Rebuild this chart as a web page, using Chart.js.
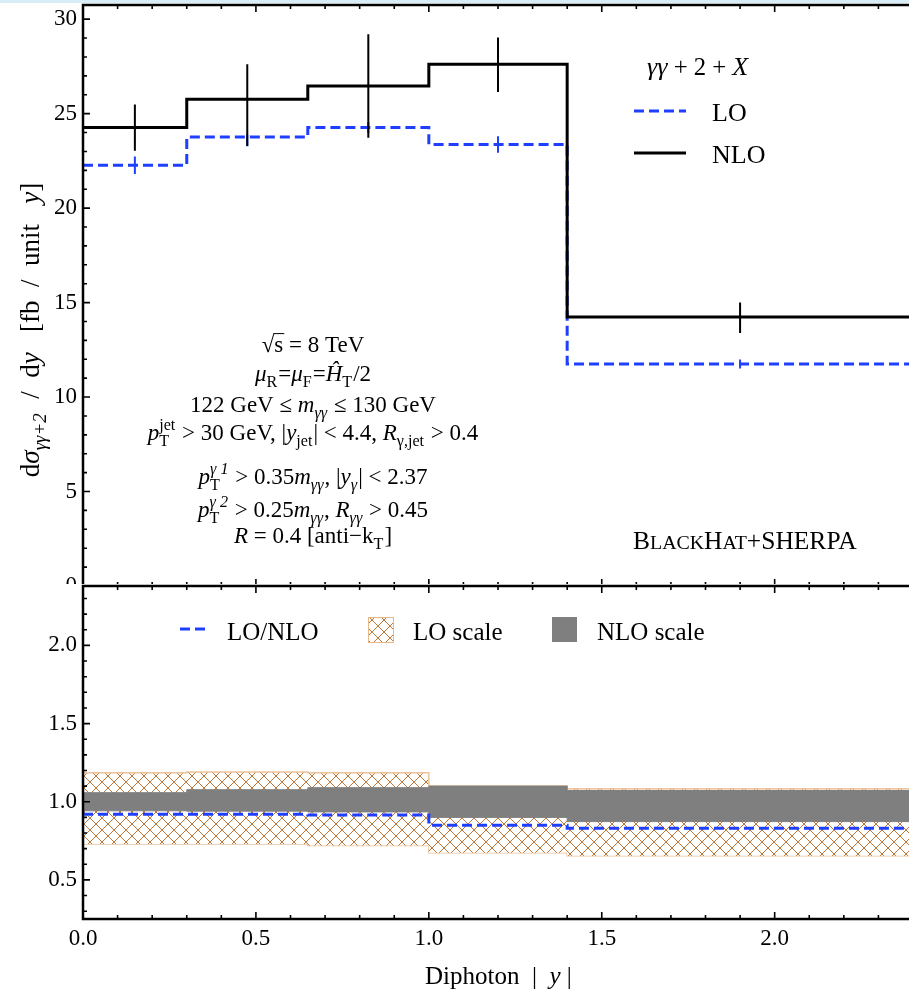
<!DOCTYPE html>
<html>
<head>
<meta charset="utf-8">
<script src="https://cdn.jsdelivr.net/npm/chart.js@4.4.0/dist/chart.umd.min.js"></script>
<style>
  html, body { margin: 0; padding: 0; background: #fff; overflow: hidden; width: 909px; height: 992px; }
  #strip { position: absolute; left: 0; top: 0; width: 909px; height: 3px; background: #d9edf8; z-index: 5; }
  #top { position: absolute; left: 0; top: 0; }
  #bottom { position: absolute; left: 0; top: 584px; }
</style>
</head>
<body>
<div id="strip"></div>
<canvas id="top" width="913" height="600"></canvas>
<canvas id="bottom" width="913" height="408"></canvas>
<script>
// bins in diphoton |y|
const binEdges = [0, 0.3, 0.65, 1.0, 1.4, 2.4];

// top panel: dsigma/dy [fb]
const nloValues = [24.26, 25.76, 26.46, 27.61, 14.24];
const nloErrUp = [1.23, 1.85, 2.74, 1.42, 0.77];
const nloErrDown = [1.23, 2.47, 2.73, 1.46, 0.85];
const loValues = [22.27, 23.76, 24.26, 23.37, 11.75];
const loErrUp = [0.46, 0.14, 0.3, 0.44, 0.24];
const loErrDown = [0.46, 0.48, 0.3, 0.44, 0.24];

// bottom panel: ratios to NLO
const ratioLoNlo = [0.92, 0.92, 0.915, 0.85, 0.83];
const loScaleHi = [1.186, 1.19, 1.186, 1.10, 1.083];
const loScaleLo = [0.73, 0.73, 0.72, 0.673, 0.654];
const nloScaleHi = [1.058, 1.077, 1.09, 1.10, 1.072];
const nloScaleLo = [0.942, 0.94, 0.935, 0.90, 0.873];

const topTicks = [0, 5, 10, 15, 20, 25, 30];
const ratioTicks = [0.5, 1.0, 1.5, 2.0];
const xTicks = [0, 0.5, 1.0, 1.5, 2.0];

const SERIF = '"Liberation Serif", "DejaVu Serif", serif';
const BLUE = '#1f3fff';
const HATCH = '#c07536';

// values hold from the left edge of each bin to the next edge
function stepData(vals) {
  return binEdges.map((x, i) => ({ x: x, y: vals[Math.min(i, vals.length - 1)] }));
}

function makeHatch() {
  const c = document.createElement('canvas');
  c.width = 12; c.height = 12;
  const g = c.getContext('2d');
  g.fillStyle = '#fff';
  g.fillRect(0, 0, 12, 12);
  g.strokeStyle = HATCH;
  g.lineWidth = 1;
  g.beginPath();
  g.moveTo(0, 0); g.lineTo(12, 12);
  g.moveTo(12, 0); g.lineTo(0, 12);
  g.stroke();
  return g.createPattern(c, 'repeat');
}
const hatch = makeHatch();

// --- rich text (sub/superscripts, italics) ---
function fontFor(size, italic) {
  return (italic ? 'italic ' : '') + size + 'px ' + SERIF;
}
function partWidth(ctx, p, size) {
  if (p.sub !== undefined || p.sup !== undefined) {
    let ws = 0, wp = 0;
    if (p.sub) { ctx.font = fontFor(size * 0.7, p.subI); ws = ctx.measureText(p.sub).width; }
    if (p.sup) { ctx.font = fontFor(size * 0.7, p.supI); wp = ctx.measureText(p.sup).width; }
    return Math.max(ws, wp) + 1;
  }
  ctx.font = fontFor(size * (p.s || 1), p.i);
  return ctx.measureText(p.t).width;
}
function drawRich(ctx, parts, x, y, size, align) {
  let w = 0;
  parts.forEach(p => { w += partWidth(ctx, p, size); });
  if (align === 'center') x -= w / 2;
  ctx.textBaseline = 'alphabetic';
  ctx.textAlign = 'left';
  parts.forEach(p => {
    const pw = partWidth(ctx, p, size);
    if (p.sub !== undefined || p.sup !== undefined) {
      if (p.sub) { ctx.font = fontFor(size * 0.7, p.subI); ctx.fillText(p.sub, x, y + size * 0.25); }
      if (p.sup) { ctx.font = fontFor(size * 0.7, p.supI); ctx.fillText(p.sup, x, y - size * 0.42); }
    } else {
      ctx.font = fontFor(size * (p.s || 1), p.i);
      ctx.fillText(p.t, x, y);
      if (p.over) {
        ctx.lineWidth = 1;
        ctx.beginPath();
        ctx.moveTo(x - 1, y - size * 0.8);
        ctx.lineTo(x + pw + 1, y - size * 0.8);
        ctx.stroke();
      }
    }
    x += pw;
  });
}

// frame with inward ticks on every side
function drawFrame(chart, yMinor, yMajorEvery) {
  const { ctx, chartArea: a, scales: { x, y } } = chart;
  ctx.save();
  ctx.strokeStyle = '#000';
  ctx.lineWidth = 1.6;
  ctx.beginPath();
  for (let k = 0; k <= 24; k++) {
    const px = x.getPixelForValue(k / 10);
    const L = k % 5 === 0 ? 7 : 4;
    ctx.moveTo(px, a.bottom); ctx.lineTo(px, a.bottom - L);
    ctx.moveTo(px, a.top); ctx.lineTo(px, a.top + L);
  }
  const k0 = Math.ceil(y.min / yMinor), k1 = Math.floor(y.max / yMinor);
  for (let k = k0; k <= k1; k++) {
    const py = y.getPixelForValue(k * yMinor);
    const L = k % yMajorEvery === 0 ? 7 : 4;
    ctx.moveTo(a.left, py); ctx.lineTo(a.left + L, py);
  }
  ctx.stroke();
  ctx.lineWidth = 2.5;
  ctx.strokeRect(a.left, a.top, a.right - a.left, a.bottom - a.top);
  ctx.restore();
}

function drawErrorBars(chart, vals, up, down, color) {
  const { ctx, scales: { x, y } } = chart;
  ctx.save();
  ctx.strokeStyle = color;
  ctx.lineWidth = 2;
  ctx.beginPath();
  vals.forEach((v, i) => {
    const px = x.getPixelForValue((binEdges[i] + binEdges[i + 1]) / 2);
    ctx.moveTo(px, y.getPixelForValue(v + up[i]));
    ctx.lineTo(px, y.getPixelForValue(v - down[i]));
  });
  ctx.stroke();
  ctx.restore();
}

// no extra room for edge labels: plot area is fixed by hand
function noPad(s) {
  s.paddingTop = 0; s.paddingBottom = 0; s.paddingLeft = 0; s.paddingRight = 0;
}

const cutsText = [
  [{ t: '√' }, { t: 's', over: true }, { t: ' = 8 TeV' }],
  [{ t: 'μ', i: 1 }, { sub: 'R' }, { t: '=' }, { t: 'μ', i: 1 }, { sub: 'F' }, { t: '=' }, { t: 'Ĥ', i: 1 }, { sub: 'T' }, { t: '/2' }],
  [{ t: '122 GeV ≤ ' }, { t: 'm', i: 1 }, { sub: 'γγ', subI: 1 }, { t: ' ≤ 130 GeV' }],
  [{ t: 'p', i: 1 }, { sub: 'T', sup: 'jet' }, { t: ' > 30 GeV, |' }, { t: 'y', i: 1 }, { sub: 'jet' }, { t: '| < 4.4, ' }, { t: 'R', i: 1 }, { sub: 'γ,jet' }, { t: ' > 0.4' }],
  [{ t: 'p', i: 1 }, { sub: 'T', sup: 'γ 1', supI: 1 }, { t: ' > 0.35' }, { t: 'm', i: 1 }, { sub: 'γγ', subI: 1 }, { t: ', |' }, { t: 'y', i: 1 }, { sub: 'γ', subI: 1 }, { t: '| < 2.37' }],
  [{ t: 'p', i: 1 }, { sub: 'T', sup: 'γ 2', supI: 1 }, { t: ' > 0.25' }, { t: 'm', i: 1 }, { sub: 'γγ', subI: 1 }, { t: ', ' }, { t: 'R', i: 1 }, { sub: 'γγ', subI: 1 }, { t: ' > 0.45' }],
  [{ t: 'R', i: 1 }, { t: ' = 0.4 [anti−k' }, { sub: 'T' }, { t: ']' }]
];
const cutsBaselines = [352, 381, 412, 440, 484, 517, 543];

const topDecor = {
  id: 'topDecor',
  afterDatasetsDraw(chart) {
    const ctx = chart.ctx;
    drawErrorBars(chart, loValues, loErrUp, loErrDown, BLUE);
    drawErrorBars(chart, nloValues, nloErrUp, nloErrDown, '#000');
    drawFrame(chart, 1, 5);

    ctx.save();
    ctx.fillStyle = '#000';
    ctx.strokeStyle = '#000';
    // y axis title
    ctx.save();
    ctx.translate(39, 330);
    ctx.rotate(-Math.PI / 2);
    drawRich(ctx, [{ t: 'd' }, { t: 'σ', i: 1 }, { sub: 'γγ+2', subI: 1 }, { t: '  /  d' }, { t: 'y', i: 1 }, { t: '   [fb  /  unit   ' }, { t: 'y', i: 1 }, { t: ']' }], 0, 0, 27, 'center');
    ctx.restore();

    // legend
    drawRich(ctx, [{ t: 'γγ', i: 1 }, { t: ' + 2 + ' , s: 0.95 }, { t: 'X', i: 1 }], 647, 75, 26, 'left');
    ctx.lineWidth = 3;
    ctx.strokeStyle = BLUE;
    ctx.setLineDash([10, 5]);
    ctx.beginPath(); ctx.moveTo(634, 111); ctx.lineTo(686, 111); ctx.stroke();
    ctx.setLineDash([]);
    ctx.strokeStyle = '#000';
    ctx.beginPath(); ctx.moveTo(634, 153); ctx.lineTo(686, 153); ctx.stroke();
    drawRich(ctx, [{ t: 'LO' }], 712, 121, 26, 'left');
    drawRich(ctx, [{ t: 'NLO' }], 712, 163, 26, 'left');

    // cuts
    cutsText.forEach((line, i) => drawRich(ctx, line, 313, cutsBaselines[i], 23, 'center'));

    // program label in small caps
    drawRich(ctx, [{ t: 'B' }, { t: 'LACK', s: 0.78 }, { t: 'H' }, { t: 'AT', s: 0.78 }, { t: '+SHERPA' }], 633, 549, 25.5, 'left');
    ctx.restore();
  }
};

const bottomDecor = {
  id: 'bottomDecor',
  beforeDraw(chart) {
    const ctx = chart.ctx;
    ctx.save();
    ctx.fillStyle = '#fff';
    ctx.fillRect(0, 0, chart.width, chart.height);
    ctx.restore();
  },
  afterDatasetsDraw(chart) {
    const ctx = chart.ctx;
    drawFrame(chart, 0.1, 5);
    ctx.save();
    ctx.fillStyle = '#000';
    // legend
    ctx.strokeStyle = BLUE;
    ctx.lineWidth = 3;
    ctx.setLineDash([10, 5]);
    ctx.beginPath(); ctx.moveTo(180, 45); ctx.lineTo(206, 45); ctx.stroke();
    ctx.setLineDash([]);
    drawRich(ctx, [{ t: 'LO/NLO' }], 227, 56, 25, 'left');
    ctx.fillStyle = hatch;
    ctx.fillRect(368, 33, 25, 25);
    ctx.strokeStyle = '#e8b888';
    ctx.lineWidth = 1;
    ctx.strokeRect(368.5, 33.5, 25, 25);
    ctx.fillStyle = '#000';
    drawRich(ctx, [{ t: 'LO scale' }], 413, 56, 25, 'left');
    ctx.fillStyle = '#7f7f7f';
    ctx.fillRect(552, 33, 25, 25);
    ctx.fillStyle = '#000';
    drawRich(ctx, [{ t: 'NLO scale' }], 597, 56, 25, 'left');
    // x axis title
    drawRich(ctx, [{ t: 'Diphoton  |  ' }, { t: 'y', i: 1 }, { t: ' |' }], 425, 400, 25, 'left');
    ctx.restore();
  }
};

const tickFont = { family: SERIF, size: 23 };

new Chart(document.getElementById('top'), {
  type: 'line',
  data: {
    datasets: [
      { label: 'NLO', data: stepData(nloValues), stepped: true, borderColor: '#000', borderWidth: 3, pointRadius: 0, fill: false },
      { label: 'LO', data: stepData(loValues), stepped: true, borderColor: BLUE, borderWidth: 3, borderDash: [10, 5], pointRadius: 0, fill: false }
    ]
  },
  options: {
    responsive: false,
    animation: false,
    devicePixelRatio: 1,
    layout: { padding: { top: 5, left: 0, right: 0, bottom: 0 } },
    plugins: { legend: { display: false }, tooltip: { enabled: false } },
    scales: {
      x: {
        type: 'linear', min: 0, max: 2.4,
        grid: { display: false, drawTicks: false }, border: { display: false },
        ticks: { display: false },
        afterFit: s => { s.height = 14; noPad(s); }
      },
      y: {
        min: 0, max: 30.75,
        grid: { display: false, drawTicks: false }, border: { display: false },
        ticks: { font: tickFont, color: '#000', padding: 6 },
        afterBuildTicks: s => { s.ticks = topTicks.map(v => ({ value: v })); },
        afterFit: s => { s.width = 83; noPad(s); }
      }
    }
  },
  plugins: [topDecor]
});

new Chart(document.getElementById('bottom'), {
  type: 'line',
  data: {
    datasets: [
      { label: 'LO/NLO', data: stepData(ratioLoNlo), stepped: true, borderColor: BLUE, borderWidth: 3, borderDash: [10, 5], pointRadius: 0, fill: false, order: 0 },
      { label: 'NLO scale', data: stepData(nloScaleHi), stepped: true, borderColor: '#7f7f7f', borderWidth: 1, pointRadius: 0, backgroundColor: '#7f7f7f', fill: '+1', order: 1 },
      { label: 'NLO scale low', data: stepData(nloScaleLo), stepped: true, borderColor: '#7f7f7f', borderWidth: 1, pointRadius: 0, fill: false, order: 1 },
      { label: 'LO scale', data: stepData(loScaleHi), stepped: true, borderColor: '#ecc29a', borderWidth: 1.5, pointRadius: 0, backgroundColor: hatch, fill: '+1', order: 2 },
      { label: 'LO scale low', data: stepData(loScaleLo), stepped: true, borderColor: '#ecc29a', borderWidth: 1.5, pointRadius: 0, fill: false, order: 2 }
    ]
  },
  options: {
    responsive: false,
    animation: false,
    devicePixelRatio: 1,
    layout: { padding: { top: 2, left: 0, right: 0, bottom: 0 } },
    plugins: { legend: { display: false }, tooltip: { enabled: false } },
    scales: {
      x: {
        type: 'linear', min: 0, max: 2.4,
        grid: { display: false, drawTicks: false }, border: { display: false },
        ticks: { font: tickFont, color: '#000', padding: 6, maxRotation: 0, callback: v => v.toFixed(1) },
        afterBuildTicks: s => { s.ticks = xTicks.map(v => ({ value: v })); },
        afterFit: s => { s.height = 73; noPad(s); }
      },
      y: {
        min: 0.25, max: 2.38,
        grid: { display: false, drawTicks: false }, border: { display: false },
        ticks: { font: tickFont, color: '#000', padding: 6, callback: v => v.toFixed(1) },
        afterBuildTicks: s => { s.ticks = ratioTicks.map(v => ({ value: v })); },
        afterFit: s => { s.width = 83; noPad(s); }
      }
    }
  },
  plugins: [bottomDecor]
});
</script>
</body>
</html>
